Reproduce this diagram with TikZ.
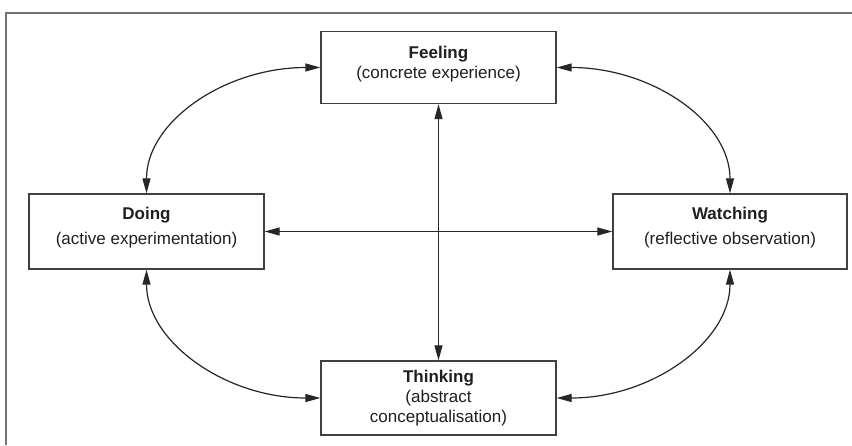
\documentclass[tikz,border=0pt]{standalone}
\usepackage{fontspec}
\setmainfont{Liberation Sans}
\usetikzlibrary{arrows.meta}
\begin{document}
\begin{tikzpicture}[x=1pt,y=-1pt,
  stagebox/.style={draw=black!75,line width=1.3pt,fill=white,inner sep=0pt},
  stagetext/.style={align=center,text=black!88,font=\fontsize{17}{20}\selectfont,inner sep=0pt},
  link/.style={line width=1.2pt,draw=black!85,
    {Triangle[length=15pt,width=8pt]}-{Triangle[length=15pt,width=8pt]}}]
  \useasboundingbox (0,0) rectangle (852,445);
  % outer frame (top and left edges)
  \draw[line width=2pt,black!55] (6,445) -- (6,13) -- (852,13);

  % the four stages
  \node[stagebox,minimum width=235pt,minimum height=72pt] (feel) at (438.5,67.5) {};
  \node[stagebox,minimum width=235pt,minimum height=75pt] (doing) at (146.5,231.5) {};
  \node[stagebox,minimum width=234pt,minimum height=75pt] (watch) at (730,231.5) {};
  \node[stagebox,minimum width=235pt,minimum height=74pt] (think) at (438.5,398) {};

  \node[stagetext] (feelt) at (438.5,64) {\textbf{Feeling}\\(concrete experience)};
  \node[stagetext] (doingt) at (146.5,228) {\textbf{Doing}\\[5pt](active experimentation)};
  \node[stagetext] (watcht) at (730,228) {\textbf{Watching}\\[5pt](reflective observation)};
  \node[stagetext] (thinkt) at (438.5,398.5) {\textbf{Thinking}\\(abstract\\conceptualisation)};

  % connectors
  \draw[link] (doing.east) -- (watch.west);
  \draw[link] (feel.south) -- (think.north);
  \draw[link] (doing.north) .. controls +(0,-72) and +(-95,0) .. (feel.west);
  \draw[link] (watch.north) .. controls +(0,-72) and +(95,0) .. (feel.east);
  \draw[link] (doing.south) .. controls +(0,72) and +(-95,0) .. (think.west);
  \draw[link] (watch.south) .. controls +(0,72) and +(95,0) .. (think.east);
\end{tikzpicture}
\end{document}
